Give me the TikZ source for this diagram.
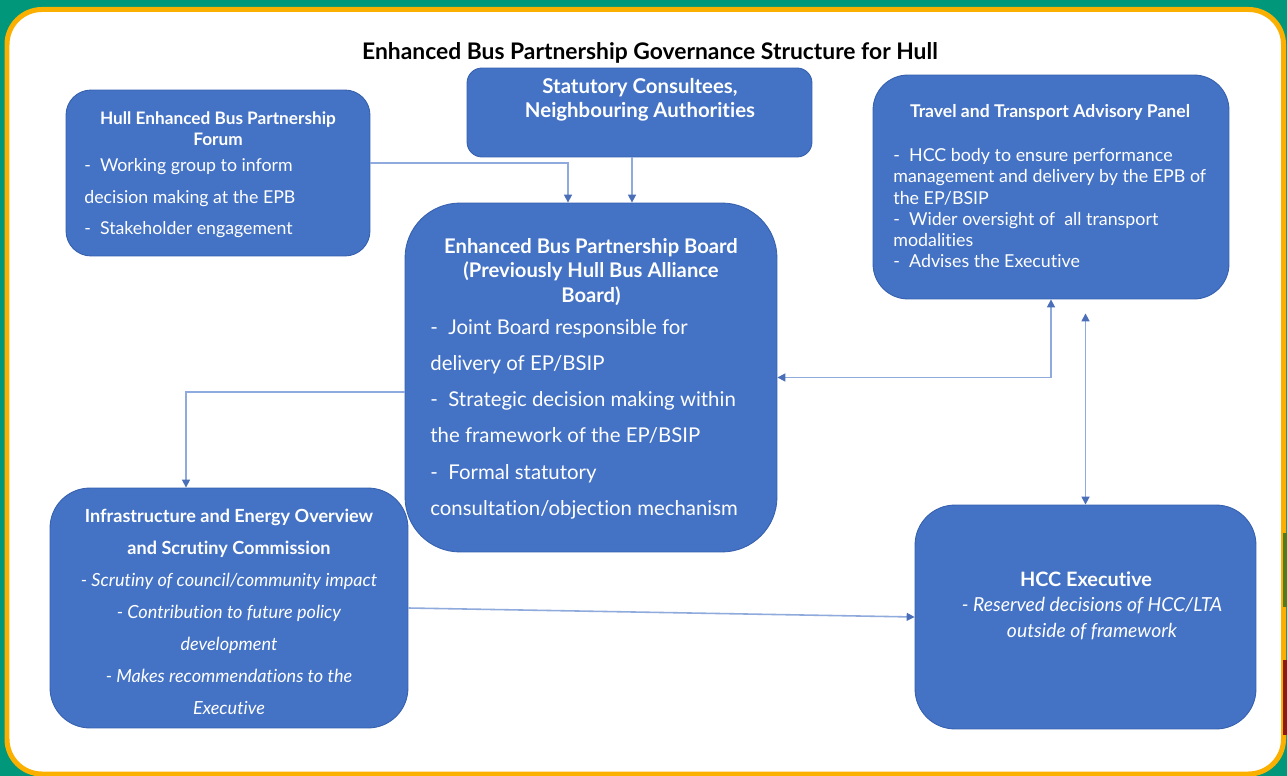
\documentclass[tikz,border=0pt]{standalone}
\usepackage{fontspec}
\setmainfont{Lato}[Ligatures=NoCommon]
\usetikzlibrary{arrows.meta,positioning,calc}

\definecolor{boxblue}{HTML}{4472C4}
\definecolor{boxedge}{HTML}{3560AE}
\definecolor{linkblue}{HTML}{8FAADC}
\definecolor{tipblue}{HTML}{4A6FB8}
\definecolor{bggreen}{HTML}{00977A}
\definecolor{framegold}{HTML}{FBB000}
\definecolor{stripgreen}{HTML}{4F7D1E}
\definecolor{stripred}{HTML}{8A1B14}

\tikzset{
  box/.style={draw=boxedge, fill=boxblue, line width=0.5pt},
  txt/.style={text=white, inner sep=0pt},
  link/.style={draw=linkblue, line width=0.9pt, -{Triangle[length=4.5pt,width=4.5pt,color=tipblue]}},
  twoway/.style={link, {Triangle[length=4.5pt,width=4.5pt,color=tipblue]}-{Triangle[length=4.5pt,width=4.5pt,color=tipblue]}},
}

\begin{document}
\begin{tikzpicture}[x=0.02cm, y=-0.02cm]
    \useasboundingbox (0,0) rectangle (1287,776);

    % frame
    \fill[bggreen] (0,0) rectangle (1287,776);
    \draw[framegold, fill=white, line width=0.1cm, rounded corners=0.7cm] (7,9.5) rectangle (1283.5,774);
    \fill[stripgreen] (1283,533) rectangle (1287,607);
    \fill[stripred] (1283,660) rectangle (1287,735);

    \node [anchor=base, font=\bfseries\fontsize{13}{15}\selectfont] (title) at (650,60) {Enhanced Bus Partnership Governance Structure for Hull};

    % boxes
    \node [box, rounded corners=0.5cm, minimum width=6.08cm, minimum height=3.32cm] (forum) at (218,173) {};
    \node [box, rounded corners=0.3cm, minimum width=6.9cm, minimum height=1.78cm] (consult) at (639.5,112.5) {};
    \node [box, rounded corners=0.7cm, minimum width=7.12cm, minimum height=4.48cm] (panel) at (1051,187) {};
    \node [box, rounded corners=1.1cm, minimum width=7.44cm, minimum height=6.98cm] (board) at (591,377.5) {};
    \node [box, rounded corners=0.8cm, minimum width=7.16cm, minimum height=4.8cm] (infra) at (229,608) {};
    \node [box, rounded corners=0.8cm, minimum width=6.82cm, minimum height=4.48cm] (exec) at (1085.5,617) {};

    % box texts
    \node [txt, anchor=north, align=center, font=\bfseries\fontsize{9.8}{12}\selectfont] (forumT) at (218,111) {Hull Enhanced Bus Partnership\\Forum};
    \node [txt, anchor=north west, align=left, font=\fontsize{10.1}{18}\selectfont] (forumB) at (84,158) {-\ \ Working group to inform\\decision making at the EPB\\-\ \ Stakeholder engagement};

    \node [txt, anchor=north, align=center, font=\bfseries\fontsize{11.6}{13.6}\selectfont] (consultT) at (640,78) {Statutory Consultees,\\Neighbouring Authorities};

    \node [txt, anchor=base, font=\bfseries\fontsize{10}{12}\selectfont] (panelT) at (1050,118) {Travel and Transport Advisory Panel};
    \node [txt, anchor=north west, align=left, font=\fontsize{10.15}{12.1}\selectfont] (panelB) at (893,148) {-\ \ HCC body to ensure performance\\management and delivery by the EPB of\\the EP/BSIP\\-\ \ Wider oversight of\ \ all transport\\modalities\\-\ \ Advises the Executive};

    \node [txt, anchor=north, align=center, font=\bfseries\fontsize{11.5}{13.9}\selectfont] (boardT) at (591,238) {Enhanced Bus Partnership Board\\(Previously Hull Bus Alliance\\Board)};
    \node [txt, anchor=north west, align=left, font=\fontsize{11.6}{20.6}\selectfont] (boardB) at (430,319) {-\ \ Joint Board responsible for\\delivery of EP/BSIP\\-\ \ Strategic decision making within\\the framework of the EP/BSIP\\-\ \ Formal statutory\\consultation/objection mechanism};

    \node [txt, anchor=north, align=center, font=\fontsize{10.3}{18.2}\selectfont] (infraT) at (229,509) {\textbf{Infrastructure and Energy Overview}\\\textbf{and Scrutiny Commission}\\\textit{- Scrutiny of council/community impact}\\\textit{- Contribution to future policy}\\\textit{development}\\\textit{- Makes recommendations to the}\\\textit{Executive}};

    \node [txt, anchor=base, font=\bfseries\fontsize{11.3}{13}\selectfont] (execT) at (1086,586) {HCC Executive};
    \node [txt, anchor=north, align=center, font=\itshape\fontsize{11}{14.7}\selectfont] (execB) at (1092,597) {- Reserved decisions of HCC/LTA\\outside of framework};

    % connectors
    \draw [link] (forum.east |- 0,163) -| (board.north -| 568,0);
    \draw [link] (consult.south -| 632,0) -- (board.north -| 632,0);
    \draw [link] (board.west |- 0,392) -| (infra.north -| 186,0);
    \draw [twoway] (board.east) -| (panel.south);
    \draw [twoway, shorten <=0.28cm] (panel.south -| exec.north) -- (exec.north);
    \draw [link] (infra.east) -- (exec.west);
\end{tikzpicture}
\end{document}
